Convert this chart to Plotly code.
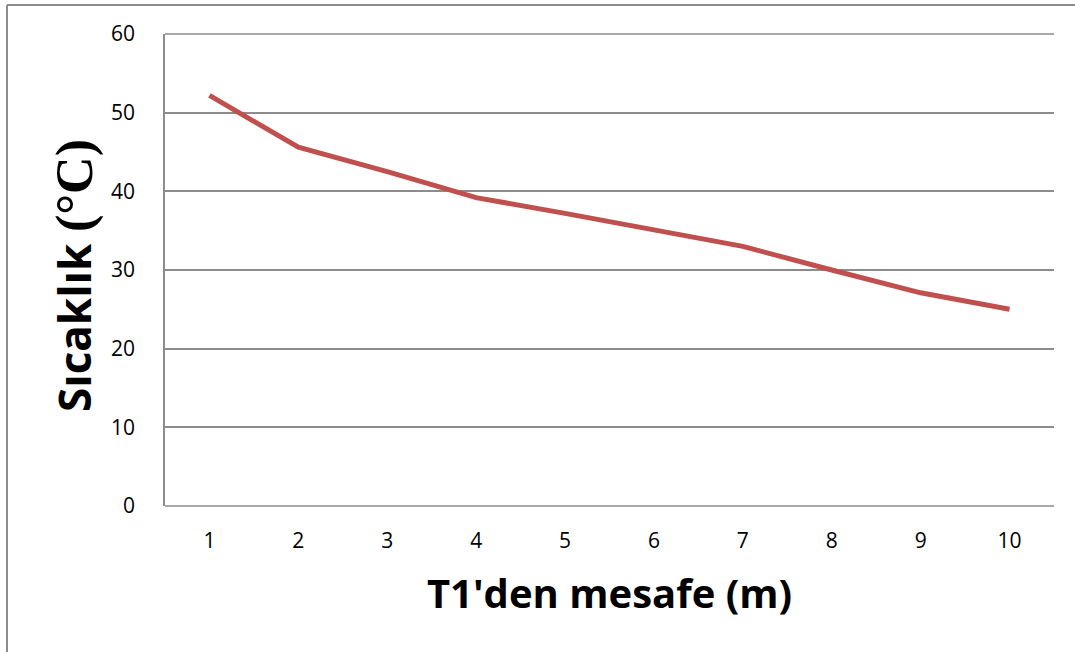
import plotly.graph_objects as go

# Distance from T1 (m) and measured temperature (°C)
distance = [1, 2, 3, 4, 5, 6, 7, 8, 9, 10]
temperature = [52.2, 45.6, 42.5, 39.2, 37.2, 35.1, 33.0, 30.0, 27.1, 25.0]
y_ticks = [0, 10, 20, 30, 40, 50, 60]

W, H = 1075, 652
L, R, T, B = 165, 21, 34, 146
plot_w = W - L - R
plot_h = H - T - B


def px_x(px):
    return (px - L) / plot_w


def px_y(py):
    return (H - B - py) / plot_h


fig = go.Figure()
fig.add_trace(go.Scatter(
    x=distance, y=temperature, mode="lines",
    line=dict(color="#C0504D", width=5),
    showlegend=False, hoverinfo="x+y",
))

grid_col = "#8C8C8C"
sans = "Open Sans, Liberation Sans, sans-serif"
serif = "Liberation Serif, DejaVu Serif, serif"
tick_font = dict(family=sans, size=21, color="#000000")

fig.update_layout(
    width=W, height=H,
    margin=dict(l=L, r=R, t=T, b=B),
    paper_bgcolor="white", plot_bgcolor="white",
    xaxis=dict(
        range=[0.5, 10.5], tickmode="array", tickvals=distance,
        ticktext=[str(d) for d in distance], showgrid=False,
        zeroline=False, showline=False, ticks="", tickfont=tick_font,
        ticklabelstandoff=20,
        title=dict(text="<b>T1'den mesafe (m)</b>", standoff=26,
                   font=dict(family=sans, size=40, color="#000000")),
    ),
    yaxis=dict(
        range=[0, 60], tickmode="array", tickvals=y_ticks,
        showgrid=True, gridcolor=grid_col, gridwidth=1.5,
        zeroline=False, showline=True, linecolor=grid_col, linewidth=1.5,
        ticks="", tickfont=tick_font, ticklabelstandoff=24,
    ),
    annotations=[
        # y-axis title: word in sans, unit in serif
        dict(text="<b>Sıcaklık</b>", textangle=-90, showarrow=False,
             xref="paper", yref="paper", x=px_x(74), y=px_y(328),
             xanchor="center", yanchor="middle",
             font=dict(family=sans, size=44, color="#000000")),
        dict(text="<b>(°C)</b>", textangle=-90, showarrow=False,
             xref="paper", yref="paper", x=px_x(75), y=px_y(186),
             xanchor="center", yanchor="middle",
             font=dict(family=serif, size=52, color="#000000")),
    ],
    shapes=[
        # outer chart frame (left and top edges)
        dict(type="line", xref="paper", yref="paper",
             x0=px_x(7), x1=px_x(7), y0=px_y(5), y1=px_y(H + 5),
             line=dict(color="#8C8C8C", width=2)),
        dict(type="line", xref="paper", yref="paper",
             x0=px_x(7), x1=px_x(W + 5), y0=px_y(5), y1=px_y(5),
             line=dict(color="#8C8C8C", width=2)),
        # plot area bottom edge and top gridline
        dict(type="line", xref="paper", yref="paper",
             x0=0, x1=1, y0=0, y1=0, line=dict(color=grid_col, width=1.5)),
        dict(type="line", xref="paper", yref="paper",
             x0=0, x1=1, y0=1, y1=1, line=dict(color=grid_col, width=1.5)),
    ],
)

fig.write_html("out.html")
